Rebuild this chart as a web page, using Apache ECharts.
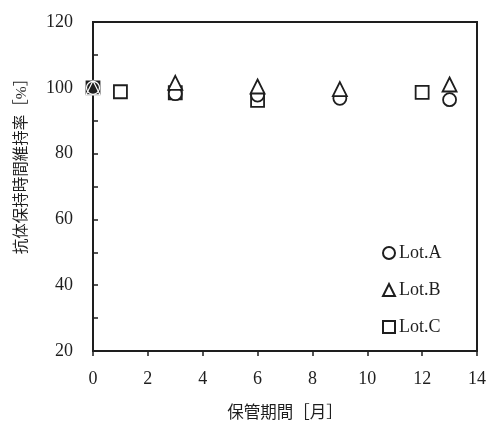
<!DOCTYPE html>
<html>
<head>
<meta charset="utf-8">
<script src="https://cdn.jsdelivr.net/npm/echarts@6/dist/echarts.min.js"></script>
<style>
  html, body { margin: 0; padding: 0; background: #fff; }
  #chart { width: 489px; height: 421px; }
</style>
</head>
<body>
<div id="chart"></div>
<script>
// Storage period in months and retention rates (%) for each lot
const lotAMonths = [0, 3, 6, 9, 13];
const lotAValues = [100, 98.2, 97.8, 96.8, 96.4];
const lotBMonths = [0, 3, 6, 9, 13];
const lotBValues = [100, 101.5, 100.4, 99.6, 101];
const lotCMonths = [0, 1, 3, 6, 12];
const lotCValues = [100, 98.8, 98.5, 96.2, 98.6];

const seriesNames = ['Lot.A', 'Lot.B', 'Lot.C'];
const xTicks = [0, 2, 4, 6, 8, 10, 12, 14];
const yTicks = [20, 40, 60, 80, 100, 120];

const FONT = '"Liberation Serif", "DejaVu Serif", "Noto Sans CJK JP", serif';
const INK = '#1e1e1e';

// Points where all three lots coincide (the common starting value)
function isShared(x, y) {
  const has = (xs, ys) => xs.some((v, i) => v === x && ys[i] === y);
  return has(lotAMonths, lotAValues) && has(lotBMonths, lotBValues) && has(lotCMonths, lotCValues);
}

// Where the three markers stack up, the square is filled and the others are knocked out
function points(xs, ys, role) {
  return xs.map((x, i) => {
    const p = { value: [x, ys[i]] };
    if (isShared(x, ys[i])) {
      p.itemStyle = role === 'base'
        ? { color: INK, borderColor: INK }
        : { color: 'rgba(0,0,0,0)', borderColor: '#fff', borderWidth: 1.2 };
    }
    return p;
  });
}

const markerStyle = { color: '#fff', borderColor: INK, borderWidth: 1.8, opacity: 1 };

const chart = echarts.init(document.getElementById('chart'), null, { renderer: 'canvas' });
chart.setOption({
  animation: false,
  backgroundColor: '#fff',
  grid: {
    left: 93, right: 12, top: 22, bottom: 70,
    outerBoundsMode: 'none', containLabel: false,
    show: true, borderColor: INK, borderWidth: 2
  },
  legend: {
    orient: 'vertical',
    left: 377, top: 239,
    itemGap: 19,
    itemWidth: 12, itemHeight: 12,
    itemStyle: { color: '#fff', borderColor: INK, borderWidth: 2 },
    textStyle: { fontFamily: FONT, fontSize: 18, lineHeight: 18, color: INK, padding: [0, 0, 0, -1] },
    data: [
      { name: seriesNames[0], icon: 'circle' },
      { name: seriesNames[1], icon: 'triangle' },
      { name: seriesNames[2], icon: 'rect' }
    ]
  },
  xAxis: {
    type: 'value',
    min: xTicks[0], max: xTicks[xTicks.length - 1], interval: 2,
    name: '保管期間［月］',
    nameLocation: 'middle', nameGap: 54,
    nameTextStyle: { fontFamily: FONT, fontSize: 16.5, color: INK },
    axisLine: { lineStyle: { color: INK, width: 2 } },
    axisTick: { show: true, inside: false, length: 5, lineStyle: { color: INK, width: 1.5 } },
    axisLabel: { fontFamily: FONT, fontSize: 18, color: INK, margin: 19 },
    splitLine: { show: false }
  },
  yAxis: {
    type: 'value',
    min: yTicks[0], max: yTicks[yTicks.length - 1], interval: 10,
    name: '抗体保持時間維持率［%］',
    nameLocation: 'middle', nameGap: 63,
    nameTextStyle: { fontFamily: FONT, fontSize: 15.5, color: INK, padding: [0, 0, 0, 48] },
    axisLine: { show: true, lineStyle: { color: INK, width: 2 } },
    axisTick: { show: true, inside: true, length: 5, lineStyle: { color: INK, width: 1.5 } },
    axisLabel: {
      fontFamily: FONT, fontSize: 18, color: INK, margin: 20,
      formatter: v => (yTicks.indexOf(v) >= 0 ? String(v) : '')
    },
    splitLine: { show: false }
  },
  series: [
    {
      name: seriesNames[2], type: 'scatter', symbol: 'rect', symbolSize: 13,
      itemStyle: markerStyle, data: points(lotCMonths, lotCValues, 'base'), z: 2
    },
    {
      name: seriesNames[0], type: 'scatter', symbol: 'circle', symbolSize: 13,
      itemStyle: markerStyle, data: points(lotAMonths, lotAValues, 'over'), z: 3
    },
    {
      name: seriesNames[1], type: 'scatter', symbol: 'triangle', symbolSize: 14,
      itemStyle: markerStyle, data: points(lotBMonths, lotBValues, 'over'), z: 4
    }
  ]
});
</script>
</body>
</html>
